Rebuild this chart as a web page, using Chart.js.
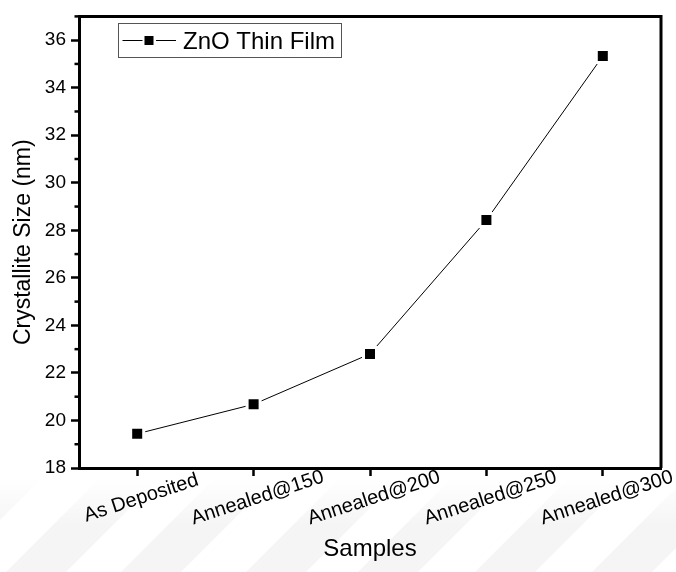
<!DOCTYPE html>
<html>
<head>
<meta charset="utf-8">
<script src="https://cdn.jsdelivr.net/npm/chart.js@4/dist/chart.umd.min.js"></script>
<style>
  html, body { margin: 0; padding: 0; background: #ffffff; }
  #plot { display: block; }
</style>
</head>
<body>
<canvas id="plot" width="676" height="572"></canvas>
<script>
// Samples along the x axis
const categories = ['As Deposited', 'Annealed@150', 'Annealed@200', 'Annealed@250', 'Annealed@300'];
// Crystallite size of each sample (nm)
const crystalliteSize = [19.44, 20.68, 22.80, 28.43, 35.33];
// Y axis range and tick spacing
const yMin = 18;
const yMax = 37;
const yMajorStep = 2;
const yMinorStep = 1;

const seriesLabel = 'ZnO Thin Film';
const xAxisTitle = 'Samples';
const yAxisTitle = 'Crystallite Size (nm)';

const FONT = "'Liberation Sans', Arial, Helvetica, sans-serif";

// Faint diagonal bands in the lower part of the page background
const backgroundBands = {
  id: 'backgroundBands',
  beforeDraw(chart) {
    const ctx = chart.ctx;
    ctx.save();
    const g = ctx.createLinearGradient(0, 478, 0, 525);
    g.addColorStop(0, 'rgba(0,0,0,0)');
    g.addColorStop(1, 'rgba(0,0,0,0.04)');
    ctx.fillStyle = g;
    const tops = [-18, 100, 215, 340, 452, 569, 686];
    tops.forEach(xt => {
      ctx.beginPath();
      ctx.moveTo(xt, 478);
      ctx.lineTo(xt + 60, 478);
      ctx.lineTo(xt - 34, 572);
      ctx.lineTo(xt - 94, 572);
      ctx.closePath();
      ctx.fill();
    });
    ctx.restore();
  }
};

// Closed frame around the plotting area plus minor ticks on the y axis
const frameAndMinorTicks = {
  id: 'frameAndMinorTicks',
  beforeDatasetsDraw(chart) {
    const { ctx, chartArea: a, scales } = chart;
    ctx.save();
    ctx.strokeStyle = '#000';
    ctx.lineWidth = 3;
    ctx.beginPath();
    ctx.moveTo(a.left, a.top);
    ctx.lineTo(a.right, a.top);
    ctx.lineTo(a.right, a.bottom);
    ctx.stroke();

    ctx.lineWidth = 2.5;
    const y = scales.y;
    for (let v = yMin + yMinorStep; v <= yMax; v += yMajorStep) {
      const py = y.getPixelForValue(v);
      ctx.beginPath();
      ctx.moveTo(a.left - 4.5, py);
      ctx.lineTo(a.left, py);
      ctx.stroke();
    }
    ctx.restore();
  }
};

// Slanted category labels centred under each tick
const slantedLabels = {
  id: 'slantedLabels',
  afterDraw(chart) {
    const { ctx, scales } = chart;
    const x = scales.x;
    ctx.save();
    ctx.fillStyle = '#000';
    ctx.font = '20px ' + FONT;
    ctx.textAlign = 'center';
    ctx.textBaseline = 'middle';
    categories.forEach((label, i) => {
      const px = x.getPixelForValue(i) + 4;
      ctx.save();
      ctx.translate(px, 498);
      ctx.rotate(-18 * Math.PI / 180);
      ctx.fillText(label, 0, 0);
      ctx.restore();
    });
    ctx.restore();
  }
};

// Boxed legend with line-and-marker sample
const boxedLegend = {
  id: 'boxedLegend',
  afterDraw(chart) {
    const ctx = chart.ctx;
    const ds = chart.data.datasets[0];
    ctx.save();
    ctx.fillStyle = '#fff';
    ctx.fillRect(118.5, 23.5, 223, 34);
    ctx.strokeStyle = '#555';
    ctx.lineWidth = 1;
    ctx.strokeRect(118.5, 23.5, 223, 34);

    const cy = 40.5;
    ctx.strokeStyle = '#000';
    ctx.beginPath();
    ctx.moveTo(122.5, cy); ctx.lineTo(142.5, cy);
    ctx.moveTo(156, cy); ctx.lineTo(176, cy);
    ctx.stroke();
    ctx.fillStyle = '#000';
    ctx.fillRect(144.5, cy - 4.5, 9, 9);

    ctx.font = '24px ' + FONT;
    ctx.textAlign = 'left';
    ctx.textBaseline = 'alphabetic';
    ctx.fillText(ds.label, 183, 49);
    ctx.restore();
  }
};

new Chart(document.getElementById('plot'), {
  type: 'line',
  data: {
    labels: categories,
    datasets: [{
      label: seriesLabel,
      data: crystalliteSize,
      borderColor: '#000',
      borderWidth: 1,
      tension: 0,
      fill: false,
      pointStyle: 'rect',
      pointRadius: 9.2,
      pointBackgroundColor: '#000',
      pointBorderColor: '#fff',
      pointBorderWidth: 3
    }]
  },
  options: {
    responsive: false,
    animation: false,
    devicePixelRatio: 1,
    layout: { padding: { top: 5, right: 15, left: 0, bottom: 0 } },
    plugins: {
      legend: { display: false },
      tooltip: { enabled: false }
    },
    scales: {
      x: {
        type: 'category',
        offset: true,
        grid: {
          display: true,
          drawOnChartArea: false,
          drawTicks: true,
          tickLength: 8,
          tickWidth: 2.5,
          tickColor: '#000'
        },
        border: { display: true, width: 3, color: '#000' },
        ticks: { display: false },
        title: {
          display: true,
          text: xAxisTitle,
          color: '#000',
          font: { family: FONT, size: 24 },
          padding: { top: 0, bottom: 8 }
        },
        afterFit(scale) { scale.height = 104; }
      },
      y: {
        min: yMin,
        max: yMax,
        ticks: {
          stepSize: yMajorStep,
          includeBounds: false,
          color: '#000',
          padding: 5,
          font: { family: FONT, size: 19 }
        },
        grid: {
          display: true,
          drawOnChartArea: false,
          drawTicks: true,
          tickLength: 8,
          tickWidth: 2.5,
          tickColor: '#000'
        },
        border: { display: true, width: 3, color: '#000' },
        title: {
          display: true,
          text: yAxisTitle,
          color: '#000',
          font: { family: FONT, size: 23 },
          padding: { top: 10, bottom: 0 }
        },
        afterFit(scale) { scale.width = 79; }
      }
    }
  },
  plugins: [backgroundBands, frameAndMinorTicks, slantedLabels, boxedLegend]
});
</script>
</body>
</html>
